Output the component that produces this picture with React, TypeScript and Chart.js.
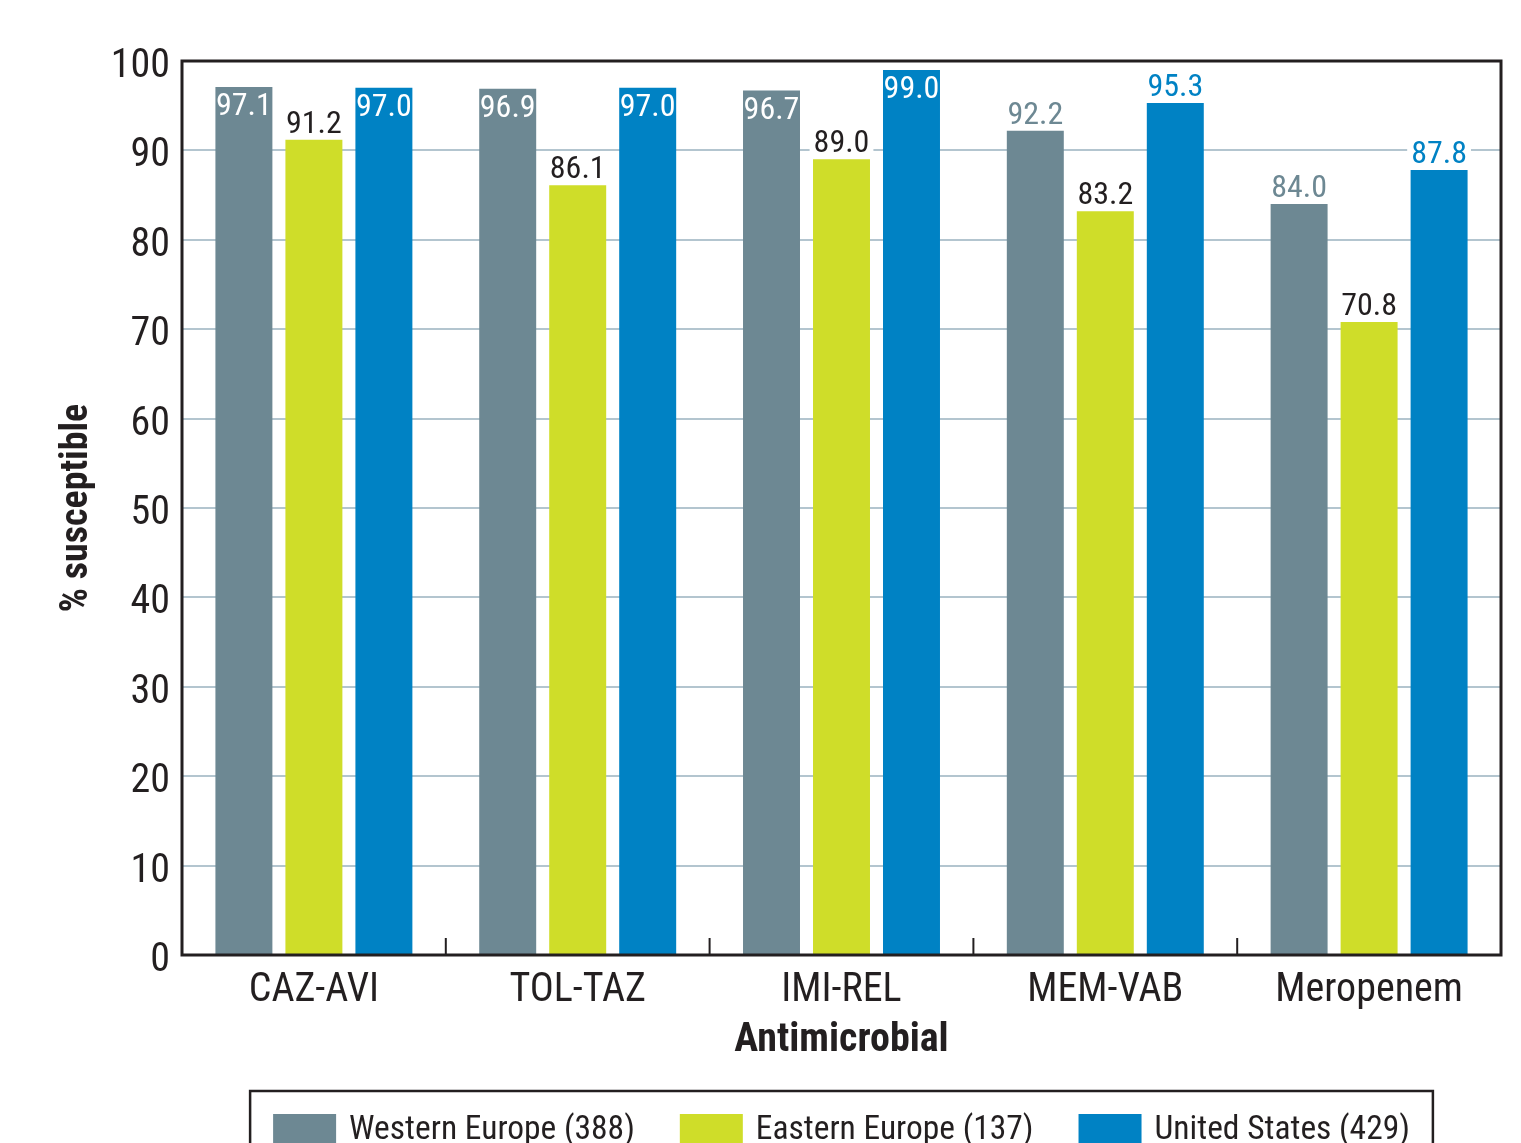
import React, { useEffect, useRef } from "react";
import { Chart, registerables } from "chart.js";

Chart.register(...registerables);

const categories = ["CAZ-AVI", "TOL-TAZ", "IMI-REL", "MEM-VAB", "Meropenem"];
const seriesNames = ["Western Europe (388)", "Eastern Europe (137)", "United States (429)"];
const westernEurope = [97.1, 96.9, 96.7, 92.2, 84.0];
const easternEurope = [91.2, 86.1, 89.0, 83.2, 70.8];
const unitedStates = [97.0, 97.0, 99.0, 95.3, 87.8];
const yTicks = [0, 10, 20, 30, 40, 50, 60, 70, 80, 90, 100];

const barColors = ["#6d8893", "#cfdd29", "#0082c4"];
const labelColors = ["#6d8893", "#231f20", "#0082c4"];
const INK = "#231f20";
const FONT = '"Liberation Sans Narrow", "Arial Narrow", "Roboto Condensed", "DejaVu Sans Condensed", sans-serif';
const INSIDE_THRESHOLD = 96.5;

const W = 1521;
const H = 1143;

// Value labels: white inside the top of tall bars, coloured above the others
const valueLabels = {
  id: "valueLabels",
  afterDatasetsDraw(chart: any) {
    const ctx = chart.ctx;
    ctx.save();
    ctx.font = `32px ${FONT}`;
    ctx.textAlign = "center";
    chart.data.datasets.forEach((ds: any, di: number) => {
      const meta = chart.getDatasetMeta(di);
      meta.data.forEach((bar: any, i: number) => {
        const v = ds.data[i] as number;
        const text = v.toFixed(1);
        if (v >= INSIDE_THRESHOLD) {
          ctx.fillStyle = "#ffffff";
          ctx.textBaseline = "top";
          ctx.fillText(text, bar.x, bar.y + 4);
        } else {
          const tw = ctx.measureText(text).width;
          const base = bar.y - 7;
          ctx.fillStyle = "#ffffff";
          ctx.fillRect(bar.x - tw / 2 - 4, base - 27, tw + 8, 30);
          ctx.fillStyle = labelColors[di];
          ctx.textBaseline = "alphabetic";
          ctx.fillText(text, bar.x, base);
        }
      });
    });
    ctx.restore();
  },
};

// Plot frame, y tick labels and the short category divider ticks along the bottom
const frame = {
  id: "frame",
  afterDatasetsDraw(chart: any) {
    const { ctx, chartArea } = chart;
    const xs = chart.scales.x;
    const ys = chart.scales.y;
    ctx.save();
    ctx.strokeStyle = INK;
    ctx.lineWidth = 2;
    for (let i = 1; i < categories.length; i++) {
      const xb = (xs.getPixelForValue(i - 1) + xs.getPixelForValue(i)) / 2;
      ctx.beginPath();
      ctx.moveTo(xb, chartArea.bottom - 17);
      ctx.lineTo(xb, chartArea.bottom);
      ctx.stroke();
    }
    ctx.lineWidth = 3;
    ctx.strokeRect(chartArea.left, chartArea.top, chartArea.right - chartArea.left, chartArea.bottom - chartArea.top);

    ctx.fillStyle = INK;
    ctx.font = `40px ${FONT}`;
    ctx.textAlign = "right";
    ctx.textBaseline = "alphabetic";
    ys.ticks.forEach((t: any) => {
      const py = ys.getPixelForValue(t.value);
      ctx.fillText(String(t.value), chartArea.left - 12, py + 16);
    });
    ctx.restore();
  },
};

// Boxed legend under the axis title
const boxedLegend = {
  id: "boxedLegend",
  afterDraw(chart: any) {
    const { ctx, chartArea } = chart;
    ctx.save();
    ctx.font = `33.5px ${FONT}`;
    const sw = 63;
    const gapText = 13;
    const gapItem = 45;
    const widths = chart.data.datasets.map((ds: any) => sw + gapText + ctx.measureText(ds.label).width);
    const total = widths.reduce((a: number, b: number) => a + b, 0) + gapItem * (widths.length - 1);
    const cx = (chartArea.left + chartArea.right) / 2;
    let x = cx - total / 2;
    const boxTop = 1091;
    ctx.strokeStyle = INK;
    ctx.lineWidth = 2.5;
    ctx.strokeRect(x - 23, boxTop, total + 46, 120);
    chart.data.datasets.forEach((ds: any, i: number) => {
      ctx.fillStyle = ds.backgroundColor;
      ctx.fillRect(x, 1114, sw, 40);
      ctx.fillStyle = INK;
      ctx.textAlign = "left";
      ctx.textBaseline = "alphabetic";
      ctx.fillText(ds.label, x + sw + gapText, 1139);
      x += widths[i] + gapItem;
    });
    ctx.restore();
  },
};

export default function App() {
  const ref = useRef<HTMLCanvasElement | null>(null);

  useEffect(() => {
    if (!ref.current) return;
    const series = [westernEurope, easternEurope, unitedStates];
    const chart = new Chart(ref.current, {
      type: "bar",
      data: {
        labels: categories,
        datasets: series.map((d, i) => ({
          label: seriesNames[i],
          data: d,
          backgroundColor: barColors[i],
          borderWidth: 0,
          categoryPercentage: 0.796,
          barPercentage: 0.814,
        })),
      },
      options: {
        responsive: false,
        animation: false,
        devicePixelRatio: 1,
        layout: { padding: { top: 61, right: 20, bottom: 78, left: 0 } },
        plugins: {
          legend: { display: false },
          tooltip: { enabled: false },
        },
        scales: {
          x: {
            grid: { display: false, drawTicks: false },
            border: { display: false },
            ticks: { color: INK, font: { family: FONT, size: 40 }, padding: 12 },
            title: {
              display: true,
              text: "Antimicrobial",
              color: INK,
              font: { family: FONT, size: 40, weight: "bold" },
              padding: { top: 0, bottom: 0 },
            },
            afterFit(scale: any) {
              scale.height = 110;
            },
          },
          y: {
            min: 0,
            max: 100,
            afterBuildTicks(scale: any) {
              scale.ticks = yTicks.map((v) => ({ value: v }));
            },
            grid: { color: "#b3c5cf", lineWidth: 2, drawTicks: false },
            border: { display: false },
            ticks: { display: false },
            title: {
              display: true,
              text: "% susceptible",
              color: INK,
              font: { family: FONT, size: 38, weight: "bold" },
              padding: { top: 55, bottom: 0 },
            },
            afterFit(scale: any) {
              scale.width = 182;
            },
          },
        },
      },
      plugins: [valueLabels, frame, boxedLegend],
    });
    return () => chart.destroy();
  }, []);

  return (
    <div style={{ position: "fixed", left: 0, top: 0, width: W, height: H, background: "#ffffff" }}>
      <canvas ref={ref} width={W} height={H} style={{ display: "block" }} />
    </div>
  );
}
